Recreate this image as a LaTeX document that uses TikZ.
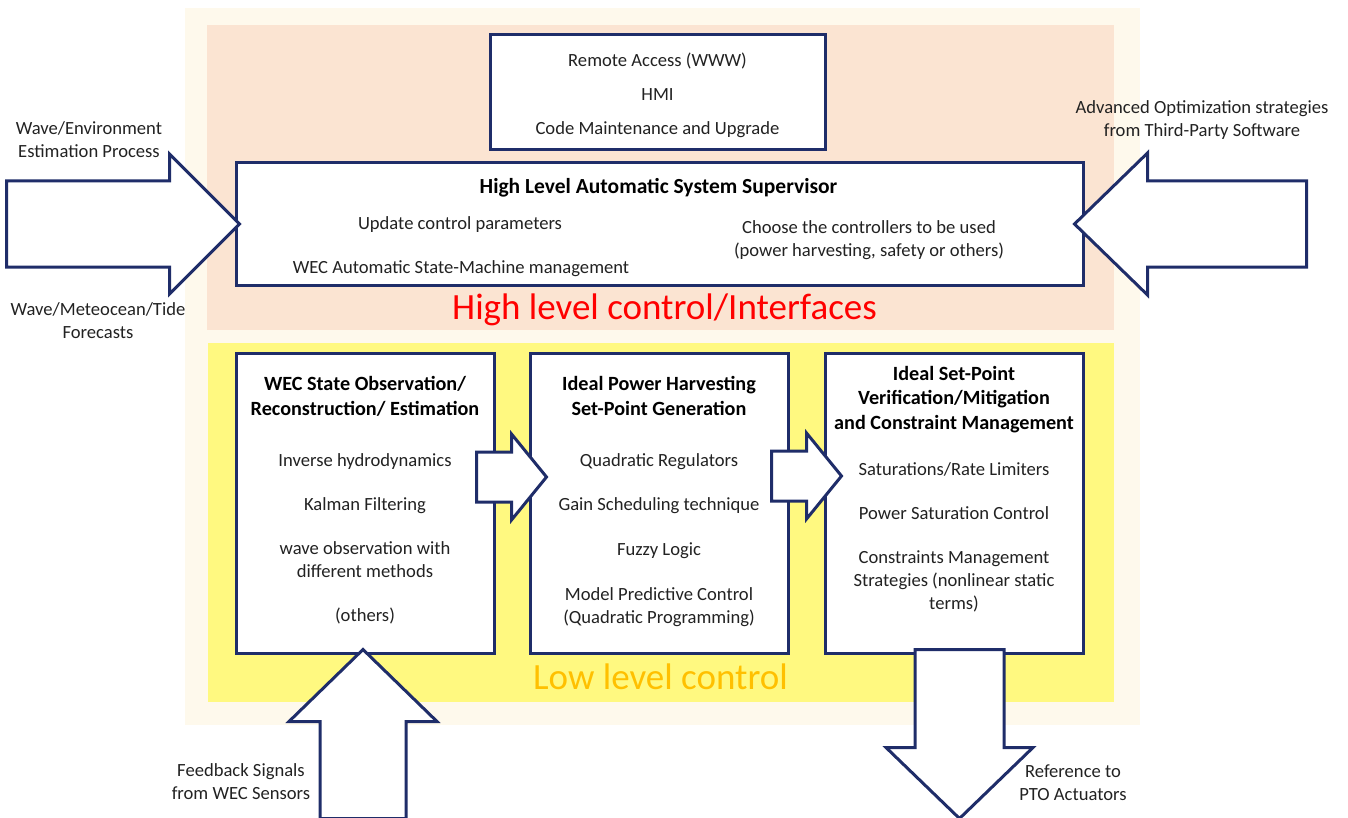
\documentclass[tikz,border=0pt]{standalone}
\usepackage{fontspec}
\setmainfont{Carlito}

\definecolor{navy}{RGB}{31,45,105}
\definecolor{cream}{RGB}{254,249,236}
\definecolor{peach}{RGB}{251,228,210}
\definecolor{lowyellow}{RGB}{255,249,128}
\definecolor{gold}{RGB}{255,192,0}
\definecolor{txt}{RGB}{34,34,34}

\newcommand{\boxhead}[1]{{\color{black}\fontsize{20.2}{23}\selectfont\bfseries #1}}

\begin{document}
\begin{tikzpicture}[x=1pt,y=-1pt]
    \tikzstyle{every node}=[font=\fontsize{18.6}{23}\selectfont, text=txt]
    \tikzstyle{boxes}=[draw=navy, line width=3pt, fill=white, inner sep=0pt]
    \tikzstyle{bigarrow}=[draw=navy, line width=3pt, fill=white, line join=miter]
    \tikzstyle{labels}=[align=center, inner sep=0pt]
    \useasboundingbox (0,0) rectangle (1348,818);

    % layers
    \fill[cream] (185,8) rectangle (1140,725);
    \fill[peach] (207,25) rectangle (1114,330);
    \fill[lowyellow] (208,343) rectangle (1114,702);

    % high level
    \node[boxes, minimum width=335, minimum height=115] (access) at (657.5,92.5) {};
    \node[labels] (accesstxt) at (657.5,95.5)
        {Remote Access (WWW)\\[11pt] HMI\\[11pt] Code Maintenance and Upgrade};
    \node[boxes, minimum width=847, minimum height=122] (super) at (659.5,224) {};
    \node[labels, font=\fontsize{21.5}{25}\selectfont\bfseries, text=black] (supertitle) at (658.5,188)
        {High Level Automatic System Supervisor};
    \node[labels] (update) at (460,225) {Update control parameters};
    \node[labels] (statemachine) at (461,269) {WEC Automatic State-Machine management};
    \node[labels] (choose) at (869,240.5) {Choose the controllers to be used\\(power harvesting, safety or others)};
    \node[labels, font=\fontsize{37}{44}\selectfont, text=red] (highlevel) at (664.5,310) {High level control/Interfaces};

    % low level
    \node[boxes, minimum width=258, minimum height=300] (observe) at (365,503) {};
    \node[boxes, minimum width=258, minimum height=300] (harvest) at (659,503) {};
    \node[boxes, minimum width=258, minimum height=300] (verify) at (954,503) {};
    \node[labels, anchor=north] (observetxt) at ([yshift=-25pt]observe.north)
        {\boxhead{WEC State Observation/}\\[2pt] \boxhead{Reconstruction/ Estimation}\\[28pt]
         Inverse hydrodynamics\\[21pt] Kalman Filtering\\[21pt]
         wave observation with\\ different methods\\[21pt] (others)};
    \node[labels, anchor=north] (harvesttxt) at ([yshift=-24.5pt]harvest.north)
        {\boxhead{Ideal Power Harvesting}\\[2pt] \boxhead{Set-Point Generation}\\[28pt]
         Quadratic Regulators\\[21pt] Gain Scheduling technique\\[22pt]
         Fuzzy Logic\\[22pt] Model Predictive Control\\ (Quadratic Programming)};
    \node[labels, anchor=north] (verifytxt) at ([yshift=-14.5pt]verify.north)
        {\boxhead{Ideal Set-Point}\\[1.5pt] \boxhead{Verification/Mitigation}\\[1.5pt] \boxhead{and Constraint Management}\\[23pt]
         Saturations/Rate Limiters\\[21pt] Power Saturation Control\\[21pt]
         Constraints Management\\ Strategies (nonlinear static\\ terms)};
    \node[labels, font=\fontsize{37}{44}\selectfont, text=gold] (lowlevel) at (660.5,677) {Low level control};

    % block arrows
    \draw[bigarrow] ([xshift=5pt]super.west) -- ++(-70,-70) -- ++(0,27) -- ++(-163,0)
        -- ++(0,86) -- ++(163,0) -- ++(0,27) -- cycle;
    \draw[bigarrow] ([xshift=-10pt]super.east) -- ++(73,-71) -- ++(0,28) -- ++(159,0)
        -- ++(0,86) -- ++(-159,0) -- ++(0,28) -- cycle;
    \draw[bigarrow] ([xshift=18pt,yshift=26pt]harvest.west) -- ++(-35,-43) -- ++(0,18) -- ++(-35,0)
        -- ++(0,50) -- ++(35,0) -- ++(0,18) -- cycle;
    \draw[bigarrow] ([xshift=18pt,yshift=27pt]verify.west) -- ++(-35,-43) -- ++(0,18) -- ++(-35,0)
        -- ++(0,50) -- ++(35,0) -- ++(0,18) -- cycle;
    \draw[bigarrow] ([xshift=-2pt,yshift=5pt]observe.south) -- ++(74,72) -- ++(-31,0) -- ++(0,97)
        -- ++(-86,0) -- ++(0,-97) -- ++(-31,0) -- cycle;
    \draw[bigarrow] ([xshift=-39pt,yshift=5pt]verify.south) -- ++(89,0) -- ++(0,98) -- ++(29,0)
        -- ++(-73.5,71) -- ++(-73.5,-71) -- ++(29,0) -- cycle;

    % outside labels
    \node[labels] (wavein) at (89,140) {Wave/Environment\\Estimation Process};
    \node[labels] (forecast) at (98,321) {Wave/Meteocean/Tide\\Forecasts};
    \node[labels] (thirdparty) at (1202,120.5) {Advanced Optimization strategies\\from Third-Party Software};
    \node[labels] (feedback) at (241,782) {Feedback Signals\\from WEC Sensors};
    \node[labels] (pto) at (1073,783) {Reference to\\PTO Actuators};
\end{tikzpicture}
\end{document}
